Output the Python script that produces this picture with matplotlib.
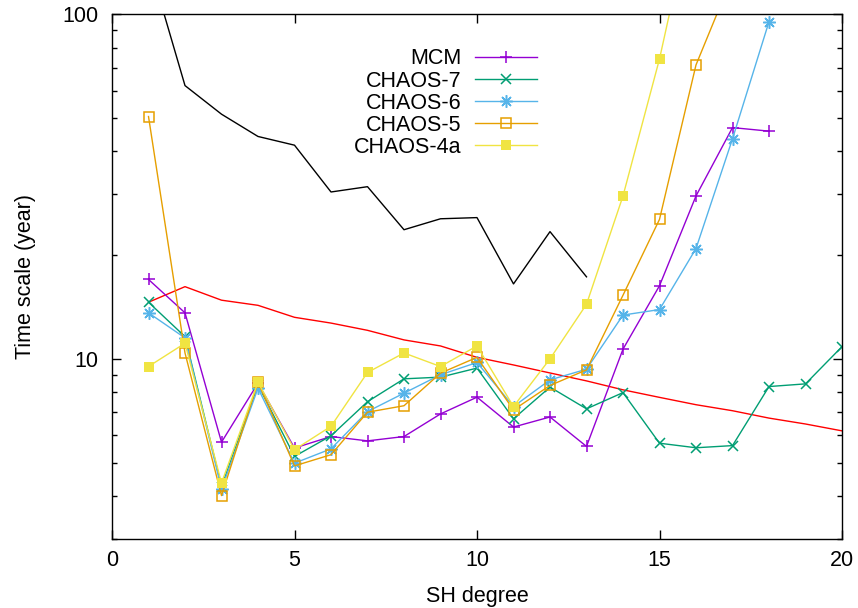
import matplotlib
matplotlib.use('Agg')
import matplotlib.pyplot as plt
from matplotlib.ticker import LogLocator, NullFormatter, FixedLocator, FixedFormatter

plt.rcParams['font.family'] = ['Liberation Sans', 'DejaVu Sans']

# SH degree values and time scales (years)
deg_mcm = [1, 2, 3, 4, 5, 6, 7, 8, 9, 10, 11, 12, 13, 14, 15, 16, 17, 18]
mcm = [17.0, 13.6, 5.73, 8.5, 5.51, 5.95, 5.78, 5.95, 6.92, 7.74,
       6.34, 6.78, 5.57, 10.67, 16.3, 29.7, 46.9, 45.8]

deg_c7 = list(range(1, 21))
chaos7 = [14.6, 11.6, 4.26, 8.4, 5.21, 5.98, 7.51, 8.75, 8.85, 9.40,
          6.70, 8.28, 7.16, 7.98, 5.69, 5.52, 5.60, 8.31, 8.46, 10.85]

deg_c6 = list(range(1, 19))
chaos6 = [13.6, 11.5, 4.19, 8.22, 4.98, 5.48, 7.03, 7.95, 8.99, 9.76,
          7.27, 8.69, 9.33, 13.4, 13.9, 20.9, 43.5, 95.2]

deg_c5 = list(range(1, 18))
chaos5 = [50.5, 10.4, 4.01, 8.56, 4.89, 5.27, 7.0, 7.31, 9.09, 10.1,
          7.11, 8.37, 9.29, 15.3, 25.4, 71.3, 129.0]

deg_c4 = list(range(1, 17))
chaos4a = [9.5, 11.1, 4.36, 8.56, 5.45, 6.37, 9.13, 10.4, 9.5, 10.9,
           7.27, 10.0, 14.4, 29.7, 74.2, 224.0]

deg_red = list(range(1, 21))
red_curve = [14.6, 16.2, 14.8, 14.3, 13.2, 12.7, 12.1, 11.35, 10.9, 10.1,
             9.6, 9.1, 8.63, 8.13, 7.73, 7.36, 7.07, 6.73, 6.47, 6.18]

deg_black = list(range(1, 14))
black_curve = [143.0, 62.1, 51.3, 44.2, 41.7, 30.5, 31.6, 23.7, 25.5, 25.7,
               16.5, 23.4, 17.3]

x_ticks = [0, 5, 10, 15, 20]
y_ticks = [10, 100]

fig = plt.figure(figsize=(8.58, 6.08), dpi=100)
ax = fig.add_axes([112 / 858, 1 - 539 / 608, 730 / 858, 524.7 / 608])

lw = 1.0
ax.plot(deg_black, black_curve, color='black', lw=lw)
ax.plot(deg_red, red_curve, color='#ff0000', lw=lw)
ax.plot(deg_mcm, mcm, color='#9400d3', lw=lw, marker='+', ms=8, mew=1.1, label='MCM')
ax.plot(deg_c7, chaos7, color='#009e73', lw=lw, marker='x', ms=7, mew=1.1, label='CHAOS-7')
ax.plot(deg_c6, chaos6, color='#56b4e9', lw=lw, marker=(8, 2, 0), ms=9, mew=1.1, label='CHAOS-6')
ax.plot(deg_c5, chaos5, color='#e69f00', lw=lw, marker='s', ms=7, mew=1.1,
        mfc='none', label='CHAOS-5')
ax.plot(deg_c4, chaos4a, color='#f0e442', lw=lw, marker='s', ms=7, mew=0,
        label='CHAOS-4a')

ax.set_yscale('log')
ax.set_xlim(0, 20)
ax.set_ylim(3, 100)

ax.xaxis.set_major_locator(FixedLocator(x_ticks))
ax.yaxis.set_major_locator(FixedLocator(y_ticks))
ax.yaxis.set_major_formatter(FixedFormatter([str(v) for v in y_ticks]))
ax.yaxis.set_minor_locator(LogLocator(base=10, subs=range(2, 10)))
ax.yaxis.set_minor_formatter(NullFormatter())

ax.tick_params(which='both', direction='in', top=True, right=True, width=1.0,
               labelsize=15.5)
ax.tick_params(which='major', length=6.3)
ax.tick_params(which='minor', length=3.4)
ax.tick_params(axis='x', pad=8)
ax.tick_params(axis='y', pad=9.5)
for s in ax.spines.values():
    s.set_linewidth(1.0)

ax.set_xlabel('SH degree', fontsize=15.5, labelpad=10.5)
ax.set_ylabel('Time scale (year)', fontsize=15.5, labelpad=19)

ax.legend(loc='upper right', bbox_to_anchor=(536.7 / 858, 1 - 48.5 / 608),
          bbox_transform=fig.transFigure, frameon=False, markerfirst=False,
          fontsize=15.5, handlelength=2.87, handletextpad=0.62, labelspacing=0.05,
          borderpad=0, borderaxespad=0)

fig.savefig('out.png', dpi=100)
